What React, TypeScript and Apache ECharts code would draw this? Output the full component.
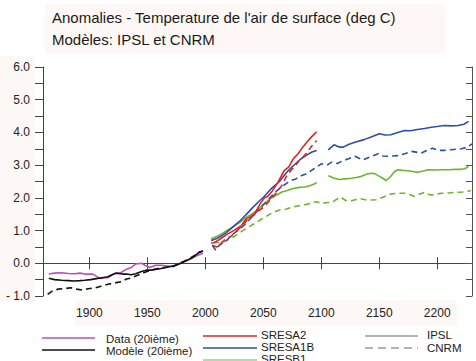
import React, { useEffect, useRef } from "react";
import * as echarts from "echarts";

// ---- Data (year, anomaly °C) ----
const obsData: [number, number][] = [
  [1865, -0.33], [1870, -0.3], [1876, -0.29], [1882, -0.31], [1887, -0.32], [1892, -0.3], [1896, -0.33],
  [1903, -0.33], [1909, -0.46], [1913, -0.44], [1916, -0.44], [1921, -0.33], [1927, -0.29], [1932, -0.18],
  [1936, -0.13], [1940, -0.02], [1945, 0.0], [1948, -0.06], [1952, -0.13], [1957, -0.06], [1962, -0.06],
  [1966, -0.08], [1972, -0.1], [1976, -0.04], [1979, 0.02], [1984, 0.08], [1989, 0.17], [1993, 0.24], [1998, 0.31],
];
const histIPSL: [number, number][] = [
  [1865, -0.46], [1870, -0.5], [1876, -0.52], [1882, -0.53], [1887, -0.54], [1892, -0.53], [1896, -0.52],
  [1901, -0.5], [1906, -0.47], [1911, -0.44], [1916, -0.41], [1920, -0.34], [1923, -0.3], [1929, -0.33],
  [1932, -0.33], [1936, -0.35], [1940, -0.32], [1945, -0.25], [1949, -0.21], [1953, -0.21], [1958, -0.18],
  [1962, -0.16], [1966, -0.13], [1970, -0.1], [1975, -0.05], [1979, 0.0], [1984, 0.09], [1988, 0.15],
  [1991, 0.23], [1995, 0.35], [1998, 0.37],
];
const histCNRM: [number, number][] = [
  [1864, -0.95], [1868, -0.85], [1873, -0.79], [1879, -0.77], [1884, -0.75], [1889, -0.79], [1894, -0.82],
  [1899, -0.78], [1905, -0.75], [1910, -0.7], [1916, -0.64], [1922, -0.6], [1928, -0.56], [1932, -0.48],
  [1936, -0.45], [1940, -0.39], [1945, -0.32], [1949, -0.26], [1955, -0.2], [1960, -0.15], [1966, -0.12],
  [1972, -0.1], [1977, -0.02], [1981, 0.05], [1985, 0.12], [1989, 0.2], [1992, 0.27], [1995, 0.33], [1998, 0.38],
];
const a2IPSL: [number, number][] = [
  [2005, 0.62], [2008, 0.63], [2013, 0.75], [2019, 0.89], [2024, 0.99], [2031, 1.15], [2035, 1.35],
  [2042, 1.47], [2047, 1.8], [2051, 2.0], [2054, 2.05], [2058, 2.22], [2063, 2.5], [2068, 2.83],
  [2072, 2.95], [2076, 3.2], [2080, 3.35], [2084, 3.55], [2088, 3.72], [2092, 3.88], [2096, 4.02],
];
const a2CNRM: [number, number][] = [
  [2006, 0.55], [2010, 0.5], [2014, 0.63], [2018, 0.75], [2022, 0.82], [2027, 0.99], [2032, 1.15],
  [2038, 1.4], [2044, 1.55], [2050, 1.71], [2055, 1.9], [2061, 2.15], [2066, 2.38], [2071, 2.73],
  [2076, 2.92], [2081, 3.14], [2087, 3.35], [2091, 3.55], [2096, 3.75],
];
const a1bIPSL: [number, number][] = [
  [2005, 0.7], [2010, 0.76], [2014, 0.84], [2018, 0.94], [2022, 1.05], [2026, 1.18], [2030, 1.3],
  [2035, 1.48], [2041, 1.71], [2046, 1.88], [2051, 2.05], [2056, 2.25], [2060, 2.38], [2064, 2.5],
  [2068, 2.68], [2072, 2.85], [2077, 3.02], [2082, 3.18], [2087, 3.3], [2092, 3.4], [2096, 3.45],
];
const a1bIPSLext: [number, number][] = [
  [2106, 3.47], [2111, 3.62], [2116, 3.55], [2119, 3.55], [2124, 3.64], [2129, 3.7], [2137, 3.78],
  [2143, 3.86], [2150, 3.96], [2155, 3.92], [2160, 3.93], [2166, 4.0], [2172, 4.06], [2177, 4.05],
  [2183, 4.09], [2189, 4.12], [2195, 4.16], [2200, 4.18], [2206, 4.21], [2212, 4.2], [2218, 4.21],
  [2223, 4.25], [2227, 4.34],
];
const a1bCNRM: [number, number][] = [
  [2006, 0.55], [2009, 0.4], [2012, 0.55], [2018, 0.69], [2024, 0.9], [2030, 1.05], [2036, 1.25],
  [2041, 1.45], [2048, 1.72], [2055, 1.97], [2061, 2.2], [2067, 2.37], [2073, 2.52], [2078, 2.58],
  [2083, 2.68], [2087, 2.73], [2092, 2.85], [2096, 2.94], [2100, 3.04], [2105, 3.0], [2109, 3.09],
  [2114, 3.05], [2119, 3.14], [2124, 3.2], [2129, 3.27], [2136, 3.16], [2142, 3.25], [2149, 3.35],
  [2153, 3.28], [2157, 3.27], [2166, 3.29], [2172, 3.35], [2178, 3.42], [2186, 3.37], [2191, 3.45],
  [2196, 3.52], [2201, 3.45], [2206, 3.45], [2214, 3.48], [2221, 3.5], [2226, 3.55], [2230, 3.65],
];
const b1IPSL: [number, number][] = [
  [2005, 0.75], [2010, 0.82], [2014, 0.9], [2018, 0.99], [2024, 1.12], [2030, 1.25], [2035, 1.4],
  [2040, 1.5], [2044, 1.61], [2050, 1.78], [2054, 1.92], [2058, 2.02], [2063, 2.12], [2066, 2.18],
  [2070, 2.22], [2075, 2.28], [2081, 2.32], [2086, 2.33], [2090, 2.37], [2094, 2.42], [2096, 2.47],
];
const b1IPSLext: [number, number][] = [
  [2106, 2.68], [2111, 2.6], [2116, 2.56], [2121, 2.58], [2126, 2.6], [2130, 2.62], [2134, 2.65],
  [2139, 2.72], [2143, 2.75], [2146, 2.74], [2149, 2.68], [2153, 2.6], [2156, 2.53], [2160, 2.66],
  [2163, 2.8], [2166, 2.86], [2170, 2.84], [2175, 2.83], [2180, 2.8], [2183, 2.78], [2188, 2.82],
  [2192, 2.86], [2198, 2.85], [2204, 2.86], [2210, 2.86], [2215, 2.87], [2220, 2.87], [2224, 2.89], [2227, 2.96],
];
const b1CNRM: [number, number][] = [
  [2007, 0.65], [2012, 0.62], [2018, 0.69], [2025, 0.82], [2032, 0.99], [2038, 1.12], [2044, 1.25],
  [2050, 1.38], [2058, 1.55], [2064, 1.63], [2070, 1.66], [2075, 1.72], [2081, 1.76], [2087, 1.8],
  [2093, 1.86], [2096, 1.88], [2100, 1.83], [2104, 1.85], [2109, 1.86], [2113, 1.95], [2117, 2.02],
  [2121, 1.92], [2126, 1.91], [2130, 1.95], [2134, 1.97], [2140, 1.93], [2147, 1.94], [2153, 2.02],
  [2160, 2.12], [2166, 2.14], [2172, 2.14], [2176, 2.1], [2180, 2.05], [2185, 2.12], [2189, 2.17],
  [2193, 2.1], [2196, 2.09], [2200, 2.12], [2204, 2.14], [2210, 2.15], [2215, 2.17], [2222, 2.18], [2229, 2.22],
];

const xTicks = [1900, 1950, 2000, 2050, 2100, 2150, 2200];
const titleLines = ["Anomalies - Temperature de l'air de surface (deg C)", "Modèles: IPSL et CNRM"];
const legendCol1 = ["Data (20ième)", "Modèle (20ième)"];
const legendCol2 = ["SRESA2", "SRESA1B", "SRESB1"];
const legendCol3 = ["IPSL", "CNRM"];

const C_MAG = "#bf4dbf";
const C_BLK = "#111111";
const C_RED = "#e82020";
const C_BLUE = "#2c4fae";
const C_GREEN = "#6db52e";
const DASH = [6, 4];
const FONT = '"Liberation Sans", Arial, sans-serif';

function line(name: string, data: [number, number][], color: string, dashed: boolean) {
  return {
    type: "line",
    name,
    data,
    showSymbol: false,
    symbol: "none",
    lineStyle: { color, width: 1.6, type: dashed ? DASH : "solid" },
    z: 3,
  };
}

export default function App() {
  const ref = useRef<HTMLDivElement>(null);
  useEffect(() => {
    if (!ref.current) return;
    const chart = echarts.init(ref.current, undefined, { renderer: "svg" });
    const bg = "#fdf8f5";
    const legText = (text: string, x: number, y: number) => ({
      type: "text",
      style: { text, x, y, fill: "#222", font: `11.5px ${FONT}`, verticalAlign: "middle", textAlign: "left" },
    });
    const legLine = (x1: number, x2: number, y: number, stroke: string, dashed = false, lw = 1.6) => ({
      type: "line",
      shape: { x1, y1: y, x2, y2: y },
      style: { stroke, lineWidth: lw, lineDash: dashed ? [8, 5] : null },
    });
    chart.setOption({
      animation: false,
      backgroundColor: "#ffffff",
      grid: { left: 43, right: 4, top: 67, bottom: 65, containLabel: false },
      xAxis: [
        {
          type: "value",
          min: 1860,
          max: 2230,
          position: "bottom",
          axisLine: { show: true, lineStyle: { color: "#444", width: 1 } },
          axisTick: { show: true, customValues: xTicks, length: 6, lineStyle: { color: "#444" } },
          axisLabel: {
            customValues: xTicks,
            color: "#222",
            fontSize: 12,
            fontFamily: FONT,
            margin: 11,
            formatter: (v: number) => String(v),
          },
          splitLine: { show: false },
        },
        {
          type: "value",
          min: 1860,
          max: 2230,
          position: "top",
          axisLine: { show: true, lineStyle: { color: "#444", width: 1 } },
          axisTick: { show: true, customValues: xTicks, length: 6, lineStyle: { color: "#444" } },
          axisLabel: { show: false },
          splitLine: { show: false },
        },
      ],
      yAxis: [
        {
          type: "value",
          min: -1,
          max: 6,
          interval: 0.5,
          position: "left",
          axisLine: { show: true, lineStyle: { color: "#444", width: 1 } },
          axisTick: { show: true, length: 8, lineStyle: { color: "#444" } },
          axisLabel: {
            color: "#222",
            fontSize: 12,
            fontFamily: FONT,
            margin: 13,
            formatter: (v: number) =>
              Number.isInteger(v) ? (v < 0 ? "- " + Math.abs(v).toFixed(1) : v.toFixed(1)) : "",
          },
          splitLine: { show: false },
        },
        {
          type: "value",
          min: -1,
          max: 6,
          interval: 0.5,
          position: "right",
          axisLine: { show: true, lineStyle: { color: "#555", width: 1 } },
          axisTick: { show: true, inside: true, length: 6, lineStyle: { color: "#555" } },
          axisLabel: { show: false },
          splitLine: { show: false },
        },
      ],
      series: [
        line("Data (20ième)", obsData, C_MAG, false),
        line("Modèle (20ième) IPSL", histIPSL, C_BLK, false),
        line("Modèle (20ième) CNRM", histCNRM, C_BLK, true),
        line("SRESB1 CNRM", b1CNRM, C_GREEN, true),
        line("SRESB1 IPSL", b1IPSL, C_GREEN, false),
        line("SRESB1 IPSL (ext)", b1IPSLext, C_GREEN, false),
        line("SRESA1B CNRM", a1bCNRM, C_BLUE, true),
        line("SRESA1B IPSL", a1bIPSL, C_BLUE, false),
        line("SRESA1B IPSL (ext)", a1bIPSLext, C_BLUE, false),
        line("SRESA2 CNRM", a2CNRM, C_RED, true),
        line("SRESA2 IPSL", a2IPSL, C_RED, false),
      ],
      graphic: [
        { type: "rect", shape: { x: 45, y: 4, width: 400, height: 49 }, style: { fill: bg }, z: -10 },
        { type: "rect", shape: { x: 0, y: 56, width: 35, height: 246 }, style: { fill: bg }, z: -10 },
        { type: "rect", shape: { x: 75, y: 300, width: 382, height: 26 }, style: { fill: bg }, z: -10 },
        {
          type: "text",
          style: { text: titleLines[0], x: 52, y: 17, fill: "#1a1a1a", font: `15px ${FONT}`, verticalAlign: "middle" },
        },
        {
          type: "text",
          style: { text: titleLines[1], x: 52, y: 39, fill: "#1a1a1a", font: `15px ${FONT}`, verticalAlign: "middle" },
        },
        legLine(42, 95, 338, C_MAG),
        legText(legendCol1[0], 106, 339),
        legLine(42, 95, 350, C_BLK),
        legText(legendCol1[1], 106, 351),
        legLine(203, 257, 336, C_RED),
        legText(legendCol2[0], 261, 335),
        legLine(203, 257, 348, C_BLUE),
        legText(legendCol2[1], 261, 347),
        legLine(203, 257, 360, "#b5dca0", false, 2),
        legText(legendCol2[2], 261, 359),
        legLine(365, 418, 336, "#999999"),
        legText(legendCol3[0], 427, 335),
        legLine(365, 418, 348, "#999999", true),
        legText(legendCol3[1], 427, 348),
      ],
    });
    return () => chart.dispose();
  }, []);
  return (
    <div style={{ position: "fixed", left: 0, top: 0, width: 476, height: 361, background: "#fff" }}>
      <div ref={ref} style={{ width: 476, height: 361 }} />
    </div>
  );
}
